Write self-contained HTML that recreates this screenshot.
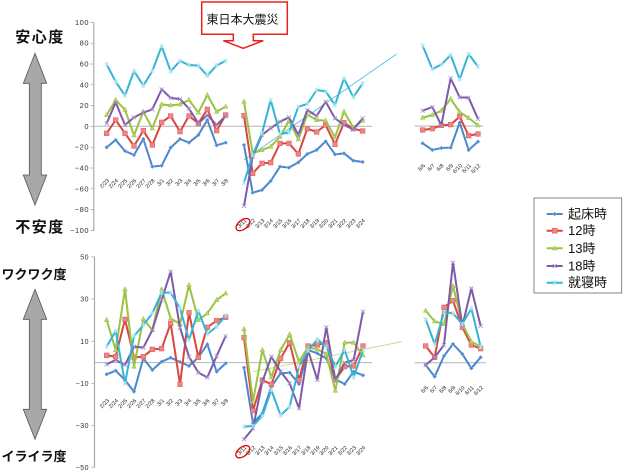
<!DOCTYPE html>
<html><head><meta charset="utf-8">
<style>html,body{margin:0;padding:0;background:#fff}svg{display:block}</style>
</head><body>
<svg width="630" height="472" viewBox="0 0 630 472" xmlns="http://www.w3.org/2000/svg" font-family="'Liberation Sans','Noto Sans CJK JP',sans-serif">
<defs>
<marker id="mb" markerUnits="userSpaceOnUse" markerWidth="16" markerHeight="16" viewBox="-8 -8 16 16" refX="0" refY="0" overflow="visible"><path d="M0,-6 L6,0 L0,6 L-6,0Z" fill="#4a87cc" stroke="#9cc0ea" stroke-width="1.5"/></marker>
<marker id="mr" markerUnits="userSpaceOnUse" markerWidth="16" markerHeight="16" viewBox="-8 -8 16 16" refX="0" refY="0" overflow="visible"><rect x="-7" y="-7" width="14" height="14" fill="#ee8585" stroke="#d9534f" stroke-width="1.5"/></marker>
<marker id="mg" markerUnits="userSpaceOnUse" markerWidth="16" markerHeight="16" viewBox="-8 -8 16 16" refX="0" refY="0" overflow="visible"><path d="M0,-8 L7,5 L-7,5Z" fill="#b6d46c" stroke="#9bc245" stroke-width="1.5"/></marker>
<marker id="mp" markerUnits="userSpaceOnUse" markerWidth="16" markerHeight="16" viewBox="-8 -8 16 16" refX="0" refY="0" overflow="visible"><path d="M-6,-6 L6,6 M-6,6 L6,-6" stroke="#a88fd0" stroke-width="2.5"/></marker>
<marker id="mc" markerUnits="userSpaceOnUse" markerWidth="16" markerHeight="16" viewBox="-8 -8 16 16" refX="0" refY="0" overflow="visible"><path d="M-6,-6 L6,6 M-6,6 L6,-6 M0,-7 L0,7" stroke="#b0e4f2" stroke-width="2.5"/></marker>
</defs>
<rect width="630" height="472" fill="#fff"/>

<!-- Left labels & arrows -->
<g font-weight="bold" fill="#111" text-anchor="middle">
<text x="40" y="42" font-size="15" letter-spacing="1.5">安心度</text>
<text x="40" y="232" font-size="15" letter-spacing="1.5">不安度</text>
<text x="34" y="279" font-size="13">ワクワク度</text>
<text x="34" y="461" font-size="13">イライラ度</text>
</g>
<path d="M35,53.3 L46.7,83.3 L41.3,83.3 L41.3,175 L46.7,175 L35,205 L23.3,175 L29.3,175 L29.3,83.3 L23.3,83.3Z" fill="#a8a8a8" stroke="#555" stroke-width="0.8"/>
<path d="M35,289.3 L46.7,319.3 L41.3,319.3 L41.3,409.3 L46.7,409.3 L35,439.3 L23.3,409.3 L29.3,409.3 L29.3,319.3 L23.3,319.3Z" fill="#a8a8a8" stroke="#555" stroke-width="0.8"/>

<!-- Top axis -->
<line x1="93.8" y1="22.4" x2="93.8" y2="231" stroke="#aaa" stroke-width="1.2"/>
<g stroke="#aaa" stroke-width="0.8">
<line x1="90.5" y1="22.4" x2="93.8" y2="22.4"/><line x1="90.5" y1="43.2" x2="93.8" y2="43.2"/><line x1="90.5" y1="64" x2="93.8" y2="64"/><line x1="90.5" y1="84.8" x2="93.8" y2="84.8"/><line x1="90.5" y1="105.6" x2="93.8" y2="105.6"/><line x1="90.5" y1="126.4" x2="93.8" y2="126.4"/><line x1="90.5" y1="147.2" x2="93.8" y2="147.2"/><line x1="90.5" y1="168" x2="93.8" y2="168"/><line x1="90.5" y1="188.8" x2="93.8" y2="188.8"/><line x1="90.5" y1="209.6" x2="93.8" y2="209.6"/><line x1="90.5" y1="230.4" x2="93.8" y2="230.4"/>
</g>
<g font-size="7.5" fill="#333" text-anchor="end" letter-spacing="0.5">
<text x="89" y="24.9">100</text><text x="89" y="45.7">80</text><text x="89" y="66.5">60</text><text x="89" y="87.3">40</text><text x="89" y="108.1">20</text><text x="89" y="128.9">0</text><text x="89" y="149.7">−20</text><text x="89" y="170.5">−40</text><text x="89" y="191.3">−60</text><text x="89" y="212.1">−80</text><text x="89" y="232.9">−100</text>
</g>
<line x1="94" y1="126.3" x2="372" y2="126.3" stroke="#b4b4b4" stroke-width="1"/>
<line x1="414.7" y1="126" x2="483" y2="126" stroke="#b4b4b4" stroke-width="1"/>

<!-- Bottom axis -->
<line x1="94.5" y1="256.7" x2="94.5" y2="467.5" stroke="#aaa" stroke-width="1.2"/>
<g stroke="#aaa" stroke-width="0.8">
<line x1="91.3" y1="256.9" x2="94.5" y2="256.9"/><line x1="91.3" y1="299" x2="94.5" y2="299"/><line x1="91.3" y1="341.3" x2="94.5" y2="341.3"/><line x1="91.3" y1="383.5" x2="94.5" y2="383.5"/><line x1="91.3" y1="425.7" x2="94.5" y2="425.7"/><line x1="91.3" y1="467.3" x2="94.5" y2="467.3"/>
</g>
<g font-size="7" fill="#333" text-anchor="end" letter-spacing="0.5">
<text x="89" y="259.4">50</text><text x="89" y="301.5">30</text><text x="89" y="343.8">10</text><text x="89" y="386">−10</text><text x="89" y="428.2">−30</text><text x="89" y="470">−50</text>
</g>
<line x1="95" y1="362.6" x2="372" y2="362.6" stroke="#b4b4b4" stroke-width="1"/>
<line x1="414.7" y1="362.7" x2="486" y2="362.7" stroke="#b4b4b4" stroke-width="1"/>

<!-- Top-left series -->
<g transform="translate(60,10) scale(0.33333)" fill="none" stroke-width="6" stroke-linejoin="round">
<polyline stroke="#4a87cc" marker-start="url(#mb)" marker-mid="url(#mb)" marker-end="url(#mb)" points="140,412 167,390 195,423 222,435 250,387 277,470 305,467 332,413 360,387 387,398 415,375 442,330 470,406 497,398"/>
<polyline stroke="#d9463f" marker-start="url(#mr)" marker-mid="url(#mr)" marker-end="url(#mr)" points="140,370 167,330 195,370 222,408 250,362 277,405 305,337 332,318 360,365 387,318 415,340 442,298 470,362 497,315"/>
<polyline stroke="#9bc245" marker-start="url(#mg)" marker-mid="url(#mg)" marker-end="url(#mg)" points="140,315 167,270 195,299 222,376 250,305 277,355 305,283 332,286 360,283 387,270 415,308 442,255 470,305 497,290"/>
<polyline stroke="#7d5ba6" marker-start="url(#mp)" marker-mid="url(#mp)" marker-end="url(#mp)" points="140,340 167,277 195,345 222,322 250,308 277,298 305,238 332,264 360,267 387,296 415,340 442,315 470,345 497,318"/>
<polyline stroke="#35b4d6" marker-start="url(#mc)" marker-mid="url(#mc)" marker-end="url(#mc)" points="140,163 167,215 195,257 222,183 250,227 277,183 305,109 332,184 360,153 387,165 415,167 442,197 470,166 497,153"/>
</g>

<!-- Top-middle series -->
<g transform="translate(220,0) scale(0.33333)" fill="none" stroke-width="6" stroke-linejoin="round">
<line x1="72" y1="480" x2="530" y2="162" stroke="#5cc6e0" stroke-width="3"/>
<polyline stroke="#4a87cc" marker-start="url(#mb)" marker-mid="url(#mb)" marker-end="url(#mb)" points="72,435 98,578 126,570 152,543 180,500 207,503 235,487 262,462 290,450 317,424 345,463 372,460 400,482 428,486"/>
<polyline stroke="#d9463f" marker-start="url(#mr)" marker-mid="url(#mr)" marker-end="url(#mr)" points="72,347 98,520 126,490 152,488 180,430 207,430 235,462 262,386 290,396 317,375 345,433 372,368 400,386 428,393"/>
<polyline stroke="#9bc245" marker-start="url(#mg)" marker-mid="url(#mg)" marker-end="url(#mg)" points="72,305 98,460 126,450 152,440 180,410 207,362 235,418 262,344 290,360 317,362 345,412 372,335 400,383 428,362"/>
<polyline stroke="#7d5ba6" marker-start="url(#mp)" marker-mid="url(#mp)" marker-end="url(#mp)" points="72,618 98,470 126,405 152,385 180,365 207,352 235,405 262,330 290,348 317,305 345,355 372,375 400,388 428,355"/>
<polyline stroke="#35b4d6" marker-start="url(#mc)" marker-mid="url(#mc)" marker-end="url(#mc)" points="72,548 98,465 126,400 152,300 180,402 207,398 235,320 262,312 290,270 317,274 345,315 372,235 400,292 428,250"/>
</g>

<!-- Top-right series -->
<g transform="translate(400,30) scale(0.33333)" fill="none" stroke-width="6" stroke-linejoin="round">
<polyline stroke="#4a87cc" marker-start="url(#mb)" marker-mid="url(#mb)" marker-end="url(#mb)" points="68,340 97,360 124,354 152,353 179,278 206,360 234,335"/>
<polyline stroke="#d9463f" marker-start="url(#mr)" marker-mid="url(#mr)" marker-end="url(#mr)" points="68,300 97,296 124,286 152,284 179,260 206,317 234,312"/>
<polyline stroke="#9bc245" marker-start="url(#mg)" marker-mid="url(#mg)" marker-end="url(#mg)" points="68,263 97,255 124,242 152,207 179,246 206,264 234,286"/>
<polyline stroke="#7d5ba6" marker-start="url(#mp)" marker-mid="url(#mp)" marker-end="url(#mp)" points="68,242 97,231 124,286 152,145 179,202 206,203 234,267"/>
<polyline stroke="#35b4d6" marker-start="url(#mc)" marker-mid="url(#mc)" marker-end="url(#mc)" points="68,47 97,117 124,104 152,75 179,148 206,72 234,110"/>
</g>

<!-- Bottom-left series -->
<g transform="translate(60,250) scale(0.33333)" fill="none" stroke-width="6" stroke-linejoin="round">
<polyline stroke="#4a87cc" marker-start="url(#mb)" marker-mid="url(#mb)" marker-end="url(#mb)" points="140,373 167,362 195,390 222,425 250,325 277,360 305,335 332,323 360,336 387,348 415,322 442,283 470,365 497,340"/>
<polyline stroke="#d9463f" marker-start="url(#mr)" marker-mid="url(#mr)" marker-end="url(#mr)" points="140,316 167,320 195,208 222,322 250,320 277,298 305,296 332,220 360,403 387,188 415,322 442,232 470,212 497,202"/>
<polyline stroke="#9bc245" marker-start="url(#mg)" marker-mid="url(#mg)" marker-end="url(#mg)" points="140,210 167,300 195,118 222,350 250,207 277,240 305,118 332,205 360,222 387,105 415,210 442,190 470,150 497,130"/>
<polyline stroke="#7d5ba6" marker-start="url(#mp)" marker-mid="url(#mp)" marker-end="url(#mp)" points="140,343 167,330 195,345 222,290 250,293 277,240 305,150 332,65 360,233 387,320 415,368 442,382 470,318 497,258"/>
<polyline stroke="#35b4d6" marker-start="url(#mc)" marker-mid="url(#mc)" marker-end="url(#mc)" points="140,290 167,243 195,400 222,258 250,225 277,190 305,128 332,128 360,175 387,270 415,182 442,252 470,230 497,196"/>
</g>

<!-- Bottom-middle series -->
<g transform="translate(225,290) scale(0.33333)" fill="none" stroke-width="6" stroke-linejoin="round">
<line x1="85" y1="245" x2="530" y2="155" stroke="#c6df8c" stroke-width="3"/>
<polyline stroke="#4a87cc" marker-start="url(#mb)" marker-mid="url(#mb)" marker-end="url(#mb)" points="57,233 84,400 112,370 139,290 167,250 194,248 222,282 249,180 277,190 304,205 331,268 359,282 386,245 414,256"/>
<polyline stroke="#d9463f" marker-start="url(#mr)" marker-mid="url(#mr)" marker-end="url(#mr)" points="57,143 84,362 112,270 139,283 167,205 194,158 222,270 249,168 277,165 304,158 331,270 359,230 386,228 414,168"/>
<polyline stroke="#9bc245" marker-start="url(#mg)" marker-mid="url(#mg)" marker-end="url(#mg)" points="57,117 84,335 112,180 139,262 167,180 194,133 222,215 249,172 277,178 304,192 331,302 359,158 386,158 414,196"/>
<polyline stroke="#7d5ba6" marker-start="url(#mp)" marker-mid="url(#mp)" marker-end="url(#mp)" points="57,448 84,415 112,275 139,200 167,245 194,280 222,355 249,180 277,270 304,112 331,270 359,218 386,210 414,65"/>
<polyline stroke="#35b4d6" marker-start="url(#mc)" marker-mid="url(#mc)" marker-end="url(#mc)" points="57,410 84,408 112,378 139,300 167,376 194,350 222,230 249,182 277,148 304,170 331,230 359,180 386,262 414,180"/>
</g>

<!-- Bottom-right series -->
<g transform="translate(400,250) scale(0.33333)" fill="none" stroke-width="6" stroke-linejoin="round">
<polyline stroke="#4a87cc" marker-start="url(#mb)" marker-mid="url(#mb)" marker-end="url(#mb)" points="77,345 104,380 132,318 159,282 187,312 214,355 242,322"/>
<polyline stroke="#d9463f" marker-start="url(#mr)" marker-mid="url(#mr)" marker-end="url(#mr)" points="77,288 104,322 132,172 159,152 187,232 214,285 242,296"/>
<polyline stroke="#9bc245" marker-start="url(#mg)" marker-mid="url(#mg)" marker-end="url(#mg)" points="77,182 104,214 132,222 159,108 187,222 214,275 242,290"/>
<polyline stroke="#7d5ba6" marker-start="url(#mp)" marker-mid="url(#mp)" marker-end="url(#mp)" points="77,345 104,322 132,285 159,38 187,228 214,115 242,228"/>
<polyline stroke="#35b4d6" marker-start="url(#mc)" marker-mid="url(#mc)" marker-end="url(#mc)" points="77,208 104,282 132,186 159,190 187,222 214,175 242,290"/>
</g>

<!-- X tick labels -->
<g font-size="5.5" fill="#222" text-anchor="end">
<text transform="translate(109.5,181) rotate(-45)">2/23</text>
<text transform="translate(118.5,181) rotate(-45)">2/24</text>
<text transform="translate(127.8,181) rotate(-45)">2/25</text>
<text transform="translate(136.8,181) rotate(-45)">2/26</text>
<text transform="translate(146.1,181) rotate(-45)">2/27</text>
<text transform="translate(155.1,181) rotate(-45)">2/28</text>
<text transform="translate(164.5,181) rotate(-45)">3/1</text>
<text transform="translate(173.5,181) rotate(-45)">3/2</text>
<text transform="translate(182.8,181) rotate(-45)">3/3</text>
<text transform="translate(191.8,181) rotate(-45)">3/4</text>
<text transform="translate(201.1,181) rotate(-45)">3/5</text>
<text transform="translate(210.1,181) rotate(-45)">3/6</text>
<text transform="translate(219.5,181) rotate(-45)">3/7</text>
<text transform="translate(228.5,181) rotate(-45)">3/8</text>

<text transform="translate(246.8,221) rotate(-45)">3/11</text>
<text transform="translate(255.5,221) rotate(-45)">3/12</text>
<text transform="translate(264.8,221) rotate(-45)">3/13</text>
<text transform="translate(273.5,221) rotate(-45)">3/14</text>
<text transform="translate(282.8,221) rotate(-45)">3/15</text>
<text transform="translate(291.8,221) rotate(-45)">3/16</text>
<text transform="translate(301.1,221) rotate(-45)">3/17</text>
<text transform="translate(310.1,221) rotate(-45)">3/18</text>
<text transform="translate(319.5,221) rotate(-45)">3/19</text>
<text transform="translate(328.5,221) rotate(-45)">3/20</text>
<text transform="translate(337.8,221) rotate(-45)">3/21</text>
<text transform="translate(346.8,221) rotate(-45)">3/22</text>
<text transform="translate(356.1,221) rotate(-45)">3/23</text>
<text transform="translate(365.5,221) rotate(-45)">3/24</text>

<text transform="translate(425.5,166) rotate(-45)">6/6</text>
<text transform="translate(435.1,166) rotate(-45)">6/7</text>
<text transform="translate(444.1,166) rotate(-45)">6/8</text>
<text transform="translate(453.5,166) rotate(-45)">6/9</text>
<text transform="translate(462.5,166) rotate(-45)">6/10</text>
<text transform="translate(471.5,166) rotate(-45)">6/11</text>
<text transform="translate(480.8,166) rotate(-45)">6/12</text>

<text transform="translate(109.5,401) rotate(-45)">2/23</text>
<text transform="translate(118.5,401) rotate(-45)">2/24</text>
<text transform="translate(127.8,401) rotate(-45)">2/25</text>
<text transform="translate(136.8,401) rotate(-45)">2/26</text>
<text transform="translate(146.1,401) rotate(-45)">2/27</text>
<text transform="translate(155.1,401) rotate(-45)">2/28</text>
<text transform="translate(164.5,401) rotate(-45)">3/1</text>
<text transform="translate(173.5,401) rotate(-45)">3/2</text>
<text transform="translate(182.8,401) rotate(-45)">3/3</text>
<text transform="translate(191.8,401) rotate(-45)">3/4</text>
<text transform="translate(201.1,401) rotate(-45)">3/5</text>
<text transform="translate(210.1,401) rotate(-45)">3/6</text>
<text transform="translate(219.5,401) rotate(-45)">3/7</text>
<text transform="translate(228.5,401) rotate(-45)">3/8</text>

<text transform="translate(246.8,448) rotate(-45)">3/11</text>
<text transform="translate(255.8,448) rotate(-45)">3/12</text>
<text transform="translate(265.1,448) rotate(-45)">3/13</text>
<text transform="translate(274.1,448) rotate(-45)">3/14</text>
<text transform="translate(283.5,448) rotate(-45)">3/15</text>
<text transform="translate(292.5,448) rotate(-45)">3/16</text>
<text transform="translate(301.8,448) rotate(-45)">3/17</text>
<text transform="translate(310.8,448) rotate(-45)">3/18</text>
<text transform="translate(320.1,448) rotate(-45)">3/19</text>
<text transform="translate(329.1,448) rotate(-45)">3/20</text>
<text transform="translate(338.1,448) rotate(-45)">3/21</text>
<text transform="translate(347.5,448) rotate(-45)">3/22</text>
<text transform="translate(356.5,448) rotate(-45)">3/23</text>
<text transform="translate(365.8,448) rotate(-45)">3/24</text>

<text transform="translate(428.5,388) rotate(-45)">6/6</text>
<text transform="translate(437.5,388) rotate(-45)">6/7</text>
<text transform="translate(446.8,388) rotate(-45)">6/8</text>
<text transform="translate(455.8,388) rotate(-45)">6/9</text>
<text transform="translate(465.1,388) rotate(-45)">6/10</text>
<text transform="translate(474.1,388) rotate(-45)">6/11</text>
<text transform="translate(483.5,388) rotate(-45)">6/12</text>
</g>

<!-- Red ellipses around 3/11 -->
<ellipse cx="243" cy="224.6" rx="8" ry="4.6" transform="rotate(-38 243 224.6)" fill="none" stroke="#e60000" stroke-width="1.3"/>
<ellipse cx="242.7" cy="451.7" rx="8" ry="4.6" transform="rotate(-38 242.7 451.7)" fill="none" stroke="#e60000" stroke-width="1.3"/>

<!-- Callout -->
<path d="M201.7,2 H287.3 V34.3 H253.3 V40.7 H263.3 L243.3,48.3 L223.3,40.7 H233.3 V34.3 H201.7 Z" fill="#fff" stroke="#e8231e" stroke-width="1.5"/>
<text x="242.5" y="23.5" font-size="12" text-anchor="middle" fill="#111">東日本大震災</text>

<!-- Legend -->
<rect x="534" y="198" width="87.7" height="95" fill="#fff" stroke="#666" stroke-width="0.8"/>
<g stroke-width="2">
<line x1="546.7" y1="214" x2="562.7" y2="214" stroke="#4a87cc"/>
<line x1="546.7" y1="230.7" x2="562.7" y2="230.7" stroke="#d9463f"/>
<line x1="546.7" y1="248.3" x2="562.7" y2="248.3" stroke="#9bc245"/>
<line x1="546.7" y1="266" x2="562.7" y2="266" stroke="#7d5ba6"/>
<line x1="546.7" y1="282.7" x2="562.7" y2="282.7" stroke="#35b4d6"/>
</g>
<path d="M554.7,212 L556.7,214 L554.7,216 L552.7,214Z" fill="#4a87cc" stroke="#9cc0ea" stroke-width="0.5"/>
<rect x="552.2" y="228.2" width="5" height="5" fill="#ee8585" stroke="#d9534f" stroke-width="0.5"/>
<path d="M554.7,245.6 L557.2,250 L552.2,250Z" fill="#b6d46c" stroke="#9bc245" stroke-width="0.5"/>
<path d="M552.7,264 L556.7,268 M552.7,268 L556.7,264" stroke="#a88fd0" stroke-width="0.9"/>
<path d="M552.7,280.7 L556.7,284.7 M552.7,284.7 L556.7,280.7 M554.7,280.2 L554.7,285.2" stroke="#b0e4f2" stroke-width="0.9"/>
<g font-size="13" fill="#111">
<text x="568" y="218.5">起床時</text>
<text x="568" y="235.2">12時</text>
<text x="568" y="252.8">13時</text>
<text x="568" y="270.5">18時</text>
<text x="568" y="287.2">就寝時</text>
</g>
</svg>
</body></html>
